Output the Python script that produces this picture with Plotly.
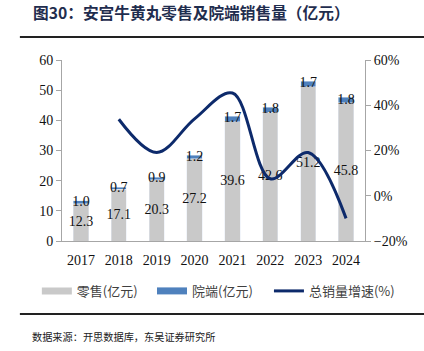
import plotly.graph_objects as go

years = ["2017", "2018", "2019", "2020", "2021", "2022", "2023", "2024"]
retail = [12.3, 17.1, 20.3, 27.2, 39.6, 42.6, 51.2, 45.8]
hospital = [1.0, 0.7, 0.9, 1.2, 1.7, 1.8, 1.7, 1.8]
growth_years = ["2018", "2019", "2020", "2021", "2022", "2023", "2024"]
growth = [33.8, 19.1, 34.0, 45.4, 7.5, 19.1, -10.0]

GRAY = "#C9C9C9"
BLUE = "#4F81BD"
NAVY = "#0D2A6B"
serif = "Liberation Serif, Times New Roman, serif"
cjk = "Noto Sans CJK SC, sans-serif"

fig = go.Figure()
fig.add_trace(go.Bar(x=years, y=retail, name="零售(亿元)", marker_color=GRAY,
                     width=0.4, yaxis="y", showlegend=False))
fig.add_trace(go.Bar(x=years, y=hospital, name="院端(亿元)", marker_color=BLUE,
                     width=0.4, yaxis="y", showlegend=False))
fig.add_trace(go.Scatter(x=growth_years, y=growth, name="总销量增速(%)", mode="lines",
                         line=dict(color=NAVY, width=3, shape="spline", smoothing=1.0),
                         yaxis="y2", showlegend=False))
legend_items = [("零售(亿元)", GRAY, 7, "legend"), ("院端(亿元)", BLUE, 7, "legend2"),
                ("总销量增速(%)", NAVY, 3, "legend3")]
for nm, col, w, lg in legend_items:
    fig.add_trace(go.Scatter(x=[None], y=[None], mode="lines", name=nm, legend=lg,
                             line=dict(color=col, width=w), yaxis="y"))
fig.add_trace(go.Scatter(x=years, y=[r / 2 for r in retail], mode="text",
                         text=[f"{v:.1f}" for v in retail], textposition="middle center",
                         textfont=dict(family=serif, size=14, color="#111"),
                         showlegend=False, hoverinfo="skip", yaxis="y"))
fig.add_trace(go.Scatter(x=years, y=[r + h / 2 for r, h in zip(retail, hospital)], mode="text",
                         text=[f"{v:.1f}" for v in hospital], textposition="middle center",
                         textfont=dict(family=serif, size=14, color="#111"),
                         showlegend=False, hoverinfo="skip", yaxis="y"))

leg_common = dict(orientation="h", xanchor="left", y=-0.276, yanchor="middle",
                  font=dict(family=cjk, size=13, color="#404040"), itemwidth=30,
                  bgcolor="rgba(0,0,0,0)", borderwidth=0)

fig.update_layout(
    width=424, height=351,
    margin=dict(l=62, r=59, t=60, b=110),
    paper_bgcolor="white", plot_bgcolor="white",
    barmode="stack",
    showlegend=True,
    legend=dict(x=-0.083, **leg_common),
    legend2=dict(x=0.297, **leg_common),
    legend3=dict(x=0.683, **leg_common),
    xaxis=dict(showline=True, linecolor="#A6A6A6", linewidth=1, ticks="",
               ticklabelstandoff=6,
               tickfont=dict(family=serif, size=14, color="#111"), showgrid=False),
    yaxis=dict(range=[0, 60], dtick=10, showline=True, linecolor="#A6A6A6", linewidth=1,
               ticks="outside", ticklen=5, tickcolor="#A6A6A6", showgrid=False, zeroline=False,
               tickfont=dict(family=serif, size=14, color="#111")),
    yaxis2=dict(range=[-20, 60], dtick=20, overlaying="y", side="right", showline=True,
                linecolor="#A6A6A6", linewidth=1, ticks="outside", ticklen=5,
                tickcolor="#A6A6A6", showgrid=False, zeroline=False, ticksuffix="%",
                tickfont=dict(family=serif, size=14, color="#111")),
    font=dict(family=serif),
)

fig.add_annotation(text="<b>图30：安宫牛黄丸零售及院端销售量（亿元）</b>", xref="paper", yref="paper",
                   x=-0.102, y=1.26, xanchor="left", yanchor="middle",
                   showarrow=False, font=dict(family=cjk, size=15.7, color="#1F2D4E"))
fig.add_shape(type="line", xref="paper", yref="paper", x0=-0.139, x1=1.2, y0=1.127, y1=1.127,
              line=dict(color="#222", width=2))
fig.add_shape(type="line", xref="paper", yref="paper", x0=-0.139, x1=1.2, y0=-0.403, y1=-0.403,
              line=dict(color="#222", width=2))
fig.add_annotation(text="数据来源：开思数据库，东吴证券研究所", xref="paper", yref="paper",
                   x=-0.106, y=-0.525, xanchor="left", yanchor="middle",
                   showarrow=False, font=dict(family=cjk, size=10.2, color="#222"))
fig.write_html("out.html")
